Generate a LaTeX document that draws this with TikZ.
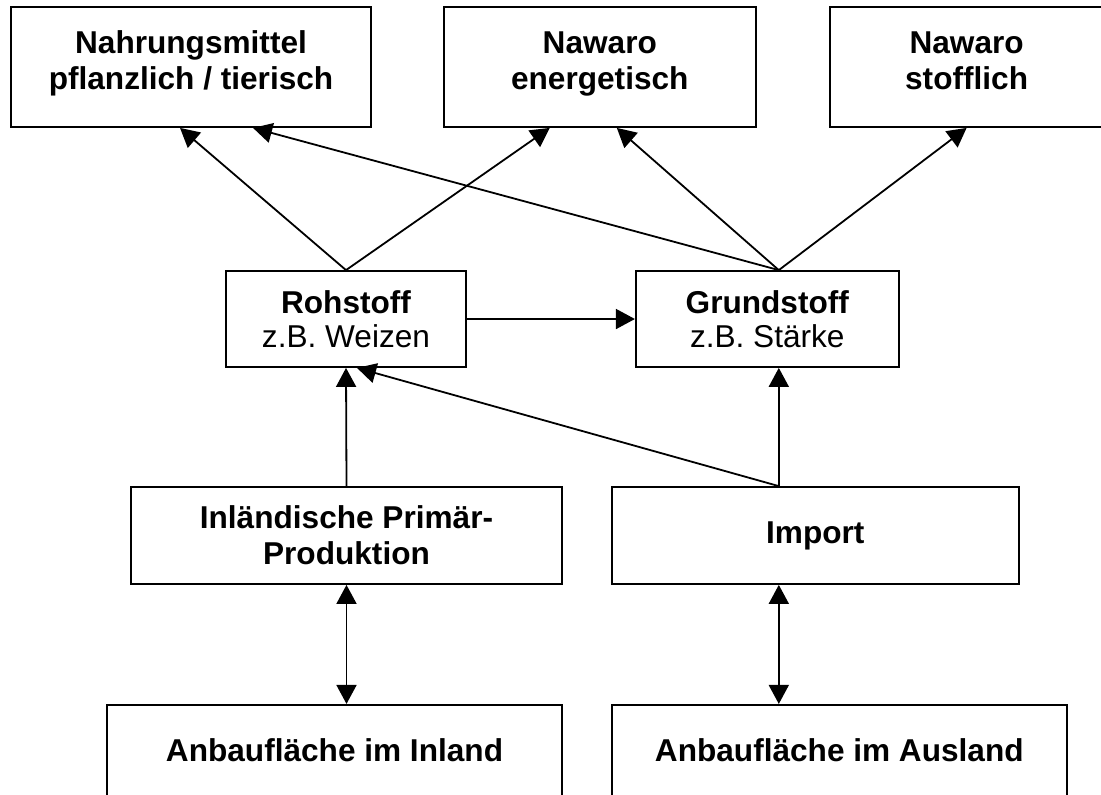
\documentclass[tikz,border=0pt]{standalone}
\usepackage{fontspec}
\setmainfont{Liberation Sans}
\usetikzlibrary{arrows.meta, positioning}
\tikzset{
  box/.style={rectangle, draw, line width=0.9pt, inner sep=0pt, align=center, font=\fontsize{15.8}{18}\selectfont\bfseries},
  topbox/.style={box, minimum height=60pt, text depth=6.5pt},
  midbox/.style={box, minimum height=48pt, font=\fontsize{15.8}{17}\selectfont\bfseries},
  landbox/.style={box, minimum width=227.5pt, minimum height=70pt, text height=11.5pt, text depth=24.5pt},
  arrow/.style={-{Triangle[length=9.5pt, width=10pt]}, line width=0.9pt},
  biarrow/.style={{Triangle[length=9.5pt, width=10pt]}-{Triangle[length=9.5pt, width=10pt]}, line width=0.9pt},
}
\begin{document}
\begin{tikzpicture}[x=0.5pt, y=-0.5pt]
    \path[use as bounding box, fill=white] (0,0) rectangle (1101,794);
    \node[topbox, minimum width=180pt] (nahrung) at (191,67) {Nahrungsmittel\\pflanzlich / tierisch};
    \node[topbox, minimum width=156pt, right=35.5pt of nahrung] (energ) {Nawaro\\energetisch};
    \node[topbox, minimum width=137pt, right=36pt of energ] (stoff) {Nawaro\\stofflich};
    \node[midbox, minimum width=120pt] (roh) at (346,319) {Rohstoff\\\mdseries z.B. Weizen};
    \node[midbox, minimum width=131.5pt, right=84pt of roh] (grund) {Grundstoff\\\mdseries z.B. Stärke};
    \node[box, minimum width=215.5pt, minimum height=48.5pt] (inland) at (346.5,535.5) {Inländische Primär-\\Produktion};
    \node[box, minimum width=203.5pt, minimum height=48.5pt, right=24pt of inland] (import) {Import};
    \node[landbox, below=59.5pt of inland.south east, anchor=north east] (anbauin) {Anbaufläche im Inland};
    \node[landbox, below=59.5pt of import.south west, anchor=north west] (anbauaus) {Anbaufläche im Ausland};
    \coordinate (gtop) at ([xshift=5.75pt]grund.north);
    \coordinate (ibase) at ([xshift=-18.25pt]import.north);
    \draw[arrow] (roh.north) -- ([xshift=-5.5pt]nahrung.south);
    \draw[arrow] (roh.north) -- ([xshift=-25pt]energ.south);
    \draw[arrow] (gtop) -- ([xshift=31pt]nahrung.south);
    \draw[arrow] (gtop) -- ([xshift=8.5pt]energ.south);
    \draw[arrow] (gtop) -- (stoff.south);
    \draw[arrow] (roh.east) -- (grund.west);
    \draw[arrow] (inland.north) -- (roh.south);
    \draw[arrow] (ibase) -- (ibase |- grund.south);
    \draw[arrow] (ibase) -- ([xshift=5.5pt]roh.south);
    \draw[biarrow] (inland.south) -- (inland.south |- anbauin.north);
    \draw[biarrow] ([xshift=-18.25pt]import.south) -- ([xshift=-18.25pt]import.south |- anbauaus.north);
\end{tikzpicture}
\end{document}
